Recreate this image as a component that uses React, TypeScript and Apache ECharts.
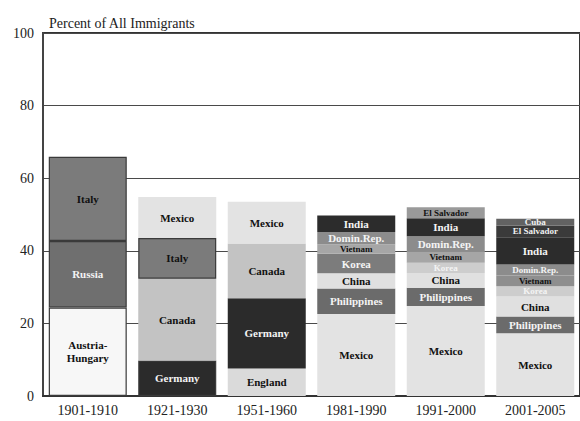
import React, { useEffect, useRef } from "react";
import * as echarts from "echarts";

const periods = ["1901-1910", "1921-1930", "1951-1960", "1981-1990", "1991-2000", "2001-2005"];

// bottom-to-top segments for each period
const countries1901 = ["Austria-Hungary", "Russia", "Italy"];
const values1901 = [24.4, 18.3, 23.2];
const countries1921 = ["Germany", "Canada", "Italy", "Mexico"];
const values1921 = [9.8, 22.5, 11.2, 11.3];
const countries1951 = ["England", "Germany", "Canada", "Mexico"];
const values1951 = [7.6, 19.3, 15.1, 11.5];
const countries1981 = ["Mexico", "Philippines", "China", "Korea", "Vietnam", "Domin.Rep.", "India"];
const values1981 = [22.6, 7.0, 4.2, 5.4, 2.6, 3.4, 4.5];
const countries1991 = ["Mexico", "Philippines", "China", "Korea", "Vietnam", "Domin.Rep.", "India", "El Salvador"];
const values1991 = [24.8, 5.0, 4.1, 2.8, 3.2, 4.1, 5.0, 3.0];
const countries2001 = ["Mexico", "Philippines", "China", "Korea", "Vietnam", "Domin.Rep.", "India", "El Salvador", "Cuba"];
const values2001 = [17.3, 4.6, 5.5, 2.8, 3.0, 3.0, 7.5, 3.3, 1.8];

const yTicks = [0, 20, 40, 60, 80, 100];

const allCountries = [countries1901, countries1921, countries1951, countries1981, countries1991, countries2001];
const allValues = [values1901, values1921, values1951, values1981, values1991, values2001];

const shade: Record<string, string> = {
  "Austria-Hungary": "#f7f7f7",
  Russia: "#6f6f6f",
  Italy: "#7b7b7b",
  Mexico: "#e3e3e3",
  Canada: "#c3c3c3",
  Germany: "#2b2b2b",
  England: "#dadada",
  Philippines: "#6b6b6b",
  China: "#e0e0e0",
  Korea: "#7c7c7c",
  Vietnam: "#a6a6a6",
  "Domin.Rep.": "#8c8c8c",
  India: "#2c2c2c",
  "El Salvador": "#9a9a9a",
  Cuba: "#626262",
};
const shadeOverride: Record<string, string> = {
  "1991-2000|Korea": "#cdcdcd",
  "2001-2005|Korea": "#cdcdcd",
  "2001-2005|El Salvador": "#3a3a3a",
  "2001-2005|Vietnam": "#8e8e8e",
};
const lightText = new Set(["Russia", "Germany", "Philippines", "Korea", "Domin.Rep.", "India", "Cuba"]);
const textOverride: Record<string, string> = {
  "1991-2000|El Salvador": "#111",
  "2001-2005|El Salvador": "#f0f0f0",
  "1991-2000|Korea": "#f4f4f4",
  "2001-2005|Korea": "#f4f4f4",
};
const smallLabel = new Set(["2001-2005|Cuba", "2001-2005|El Salvador", "1991-2000|El Salvador", "1991-2000|Korea", "2001-2005|Korea", "2001-2005|Vietnam", "1991-2000|Vietnam", "1981-1990|Vietnam", "2001-2005|Domin.Rep."]);
const displayName: Record<string, string> = { "Austria-Hungary": "Austria-\nHungary" };

export default function App() {
  const ref = useRef<HTMLDivElement>(null);
  useEffect(() => {
    if (!ref.current) return;
    const chart = echarts.init(ref.current, undefined, { renderer: "svg" });
    const maxLayers = Math.max(...allCountries.map((c) => c.length));
    const series: any[] = [];
    for (let k = 0; k < maxLayers; k++) {
      series.push({
        type: "bar",
        stack: "total",
        barWidth: 78,
        label: {
          show: true,
          position: "inside",
          fontFamily: "Liberation Serif",
          fontWeight: "bold",
          fontSize: 11,
          lineHeight: 13,
          textBorderWidth: 0,
          formatter: (p: any) => displayName[p.name] || p.name,
        },
        data: periods.map((per, i) => {
          const c = allCountries[i][k];
          if (c === undefined) return { value: "-", name: "" };
          const key = per + "|" + c;
          const color = shadeOverride[key] || shade[c];
          const txt = textOverride[key] || (lightText.has(c) ? "#f4f4f4" : "#111");
          const bordered = i === 0 || (i === 1 && (c === "Italy" || c === "Germany"));
          const small = smallLabel.has(key);
          return {
            value: allValues[i][k],
            name: c,
            itemStyle: {
              color,
              borderColor: bordered ? "#3a3a3a" : color,
              borderWidth: bordered ? 1.2 : 0,
            },
            label: small ? { color: txt, fontSize: 9, lineHeight: 9 } : { color: txt },
          };
        }),
      });
    }
    chart.setOption({
      animation: false,
      backgroundColor: "#ffffff",
      title: {
        text: "Percent of All Immigrants",
        left: 44,
        top: 11,
        textStyle: { fontFamily: "Liberation Serif", fontSize: 14, fontWeight: "normal", color: "#222" },
      },
      grid: { left: 43, right: -6, top: 33, bottom: 25, show: true, borderColor: "#333", borderWidth: 2 },
      xAxis: {
        type: "category",
        data: periods,
        axisTick: { show: false },
        axisLine: { lineStyle: { color: "#333", width: 2 } },
        axisLabel: { fontFamily: "Liberation Serif", fontSize: 14, color: "#222", margin: 7, interval: 0 },
      },
      yAxis: {
        type: "value",
        min: yTicks[0],
        max: yTicks[yTicks.length - 1],
        interval: 20,
        axisLine: { show: true, lineStyle: { color: "#444", width: 2 } },
        axisTick: { show: false },
        splitLine: { lineStyle: { color: "#4a4a4a", width: 1.2 } },
        axisLabel: { fontFamily: "Liberation Serif", fontSize: 14, color: "#222", margin: 9 },
      },
      series,
    });
    return () => chart.dispose();
  }, []);
  return <div ref={ref} style={{ position: "fixed", left: 0, top: 0, width: 580, height: 421 }} />;
}
